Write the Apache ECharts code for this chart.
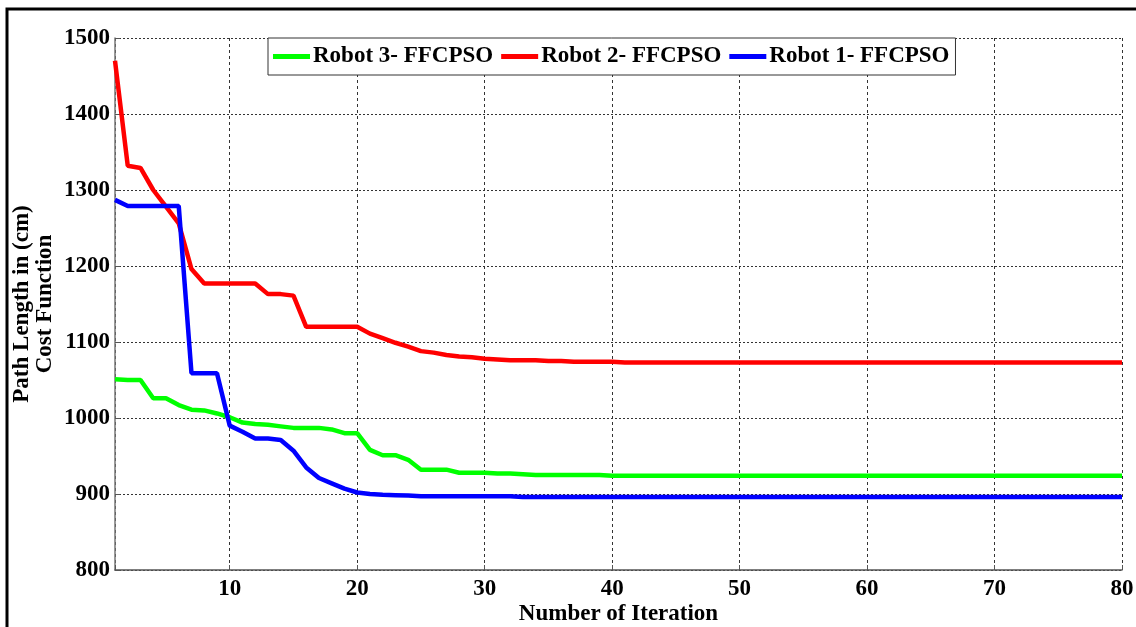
<!DOCTYPE html>
<html>
<head>
<meta charset="utf-8">
<script src="https://cdn.jsdelivr.net/npm/echarts@6/dist/echarts.min.js"></script>
<style>
html,body{margin:0;padding:0;background:#fff;}
#c{width:1136px;height:627px;}
</style>
</head>
<body>
<div id="c"></div>
<script>
var iterations = [];
for (var i = 1; i <= 80; i++) iterations.push(i);

var robot3 = [1051,1050,1050,1026,1026,1017,1011,1010,1006,1001,
  994,992,991,989,987,987,987,985,980,980,
  958,951,951,945,932,932,932,928,928,928,
  927,927,926,925,925,925,925,925,925,924,
  924,924,924,924,924,924,924,924,924,924,
  924,924,924,924,924,924,924,924,924,924,
  924,924,924,924,924,924,924,924,924,924,
  924,924,924,924,924,924,924,924,924,924];

var robot2 = [1470,1332,1329,1300,1278,1256,1196,1177,1177,1177,
  1177,1177,1163,1163,1161,1120,1120,1120,1120,1120,
  1111,1105,1099,1094,1088,1086,1083,1081,1080,1078,
  1077,1076,1076,1076,1075,1075,1074,1074,1074,1074,
  1073,1073,1073,1073,1073,1073,1073,1073,1073,1073,
  1073,1073,1073,1073,1073,1073,1073,1073,1073,1073,
  1073,1073,1073,1073,1073,1073,1073,1073,1073,1073,
  1073,1073,1073,1073,1073,1073,1073,1073,1073,1073];

var robot1 = [1287,1279,1279,1279,1279,1279,1059,1059,1059,990,
  982,973,973,971,957,935,921,914,907,902,
  900,899,898.5,898,897,897,897,897,897,897,
  897,897,896,896,896,896,896,896,896,896,
  896,896,896,896,896,896,896,896,896,896,
  896,896,896,896,896,896,896,896,896,896,
  896,896,896,896,896,896,896,896,896,896,
  896,896,896,896,896,896,896,896,896,896];

var seriesNames = ['Robot 3- FFCPSO', 'Robot 2- FFCPSO', 'Robot 1- FFCPSO'];
var seriesColors = ['#00ff00', '#ff0000', '#0000ff'];
var yTicks = {min: 800, max: 1500, step: 100};
var xTicks = {min: 1, max: 80, step: 10};

function pairs(arr) {
  return arr.map(function (v, k) { return [iterations[k], v]; });
}

var font = 'Liberation Serif, Times New Roman, serif';
var chart = echarts.init(document.getElementById('c'));
var dataSets = [robot3, robot2, robot1];

chart.setOption({
  animation: false,
  backgroundColor: '#fff',
  graphic: [{
    type: 'rect',
    shape: {x: 7, y: 9, width: 1150, height: 640},
    style: {fill: null, stroke: '#000', lineWidth: 3},
    silent: true,
    z: 0
  }],
  grid: {left: 115, top: 38, right: 14, bottom: 57, containLabel: false, outerBoundsMode: 'none'},
  legend: {
    left: 268, top: 38,
    data: seriesNames,
    icon: 'rect',
    itemWidth: 37, itemHeight: 5, itemGap: 8,
    padding: [7, 6, 7, 5],
    borderColor: '#333', borderWidth: 1,
    backgroundColor: '#fff',
    textStyle: {fontFamily: font, fontWeight: 'bold', fontSize: 23, color: '#000', padding: [0, 0, 0, -2]}
  },
  xAxis: {
    type: 'value',
    min: xTicks.min, max: xTicks.max,
    splitNumber: 8, minInterval: xTicks.step, maxInterval: xTicks.step,
    name: 'Number of Iteration',
    nameLocation: 'middle', nameGap: 33, nameMoveOverlap: false,
    nameTextStyle: {fontFamily: font, fontWeight: 'bold', fontSize: 23, color: '#000'},
    axisLine: {lineStyle: {color: '#555', width: 1.5}},
    axisTick: {show: true, inside: true, length: 5, lineStyle: {color: '#555'}},
    axisLabel: {
      fontFamily: font, fontWeight: 'bold', fontSize: 23, color: '#000', margin: 8,
      formatter: function (v) { return v % 10 === 0 ? String(v) : ''; }
    },
    splitLine: {show: true, lineStyle: {color: '#333', type: [3, 3], width: 1}}
  },
  yAxis: {
    type: 'value',
    min: yTicks.min, max: yTicks.max, interval: yTicks.step,
    name: 'Path Length in (cm)\nCost Function',
    nameLocation: 'middle', nameGap: 58, nameRotate: 90, nameMoveOverlap: false,
    nameTextStyle: {fontFamily: font, fontWeight: 'bold', fontSize: 23, color: '#000', lineHeight: 23, align: 'center'},
    axisLine: {show: true, lineStyle: {color: '#777', width: 1.5}},
    axisTick: {show: true, inside: true, length: 5, lineStyle: {color: '#555'}},
    axisLabel: {
      fontFamily: font, fontWeight: 'bold', fontSize: 23, color: '#000', margin: 5,
      formatter: function (v) { return String(v); }
    },
    splitLine: {show: true, lineStyle: {color: '#333', type: [2, 2], width: 1}}
  },
  series: dataSets.map(function (d, k) {
    return {
      name: seriesNames[k],
      type: 'line',
      data: pairs(d),
      showSymbol: false,
      symbol: 'none',
      lineStyle: {color: seriesColors[k], width: 4.5},
      itemStyle: {color: seriesColors[k]},
      z: 3 + k
    };
  })
});
</script>
</body>
</html>
